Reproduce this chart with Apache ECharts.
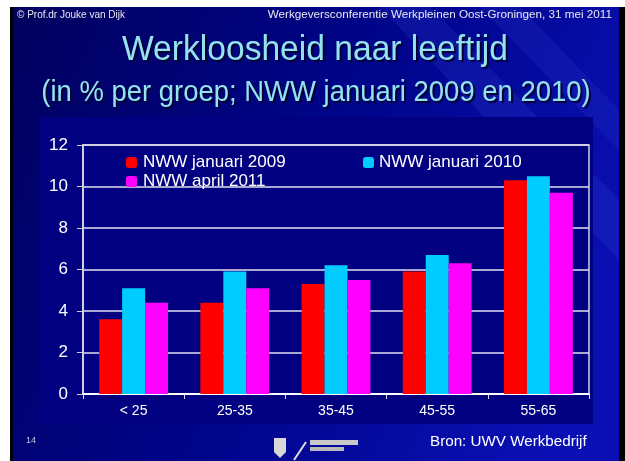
<!DOCTYPE html>
<html>
<head>
<meta charset="utf-8">
<script src="https://cdn.jsdelivr.net/npm/echarts@6/dist/echarts.min.js"></script>
<style>
  html, body { margin: 0; padding: 0; background: #fff; }
  #chart { width: 625px; height: 461px; }
</style>
</head>
<body>
<div id="chart"></div>
<script>
// leeftijdsgroepen
const categories = ['< 25', '25-35', '35-45', '45-55', '55-65']
const nww2009 = [3.6, 4.4, 5.3, 5.9, 10.3]
const nww2010 = [5.1, 5.9, 6.2, 6.7, 10.5]
const nww2011 = [4.4, 5.1, 5.5, 6.3, 9.7]
const seriesNames = ['NWW januari 2009', 'NWW januari 2010', 'NWW april 2011']
const yTicks = { min: 0, max: 12, interval: 2 }

const font = 'Liberation Sans, Arial, sans-serif'
const chart = echarts.init(document.getElementById('chart'))

const option = {
  backgroundColor: '#ffffff',
  animation: false,
  textStyle: { fontFamily: font },
  graphic: [
    // dia-rand en achtergrond
    { type: 'rect', z: -10, shape: { x: 10, y: 7, width: 615, height: 454 }, style: { fill: '#000000' } },
    {
      type: 'rect', z: -9, shape: { x: 13, y: 7, width: 606, height: 454 },
      style: {
        fill: new echarts.graphic.LinearGradient(0, 0, 1, 0.6, [
          { offset: 0, color: '#00005e' },
          { offset: 0.5, color: '#000488' },
          { offset: 1, color: '#0a10b4' }
        ])
      }
    },
    { type: 'polygon', z: -8, shape: { points: [[380, 7], [430, 7], [619, 200], [619, 260]] }, style: { fill: 'rgba(60,80,230,0.18)' } },
    { type: 'polygon', z: -8, shape: { points: [[480, 7], [520, 7], [619, 110], [619, 150]] }, style: { fill: 'rgba(60,80,230,0.15)' } },
    // grafiek-paneel
    { type: 'rect', z: -7, shape: { x: 40, y: 117, width: 553, height: 307 }, style: { fill: '#000080' } },
    // kop
    { type: 'text', left: 17, top: 10, style: { text: '© Prof.dr Jouke van Dijk', fill: '#e8e8f0', font: '10px ' + font } },
    { type: 'text', right: 13, top: 9, style: { text: 'Werkgeversconferentie Werkpleinen Oost-Groningen, 31 mei 2011', fill: '#e8e8f0', font: '11.7px ' + font } },
    // titel
    {
      type: 'text', x: 315, y: 33, scaleX: 0.96,
      style: {
        text: 'Werkloosheid naar leeftijd', fill: '#94e2f0', font: '35px ' + font, align: 'center',
        textShadowColor: '#000030', textShadowOffsetX: 2, textShadowOffsetY: 2, textShadowBlur: 1
      }
    },
    {
      type: 'text', x: 316, y: 78, scaleX: 0.915,
      style: {
        text: '(in % per groep; NWW januari 2009 en 2010)', fill: '#94e2f0', font: '30px ' + font, align: 'center',
        textShadowColor: '#000030', textShadowOffsetX: 2, textShadowOffsetY: 2, textShadowBlur: 1
      }
    },
    // voet
    { type: 'text', left: 26, top: 436, style: { text: '14', fill: '#c8c8e0', font: '9px ' + font } },
    { type: 'text', left: 430, top: 434, style: { text: 'Bron: UWV Werkbedrijf', fill: '#ffffff', font: '15.2px ' + font } },
    // logo (grof)
    { type: 'polygon', shape: { points: [[274, 438], [286, 438], [286, 452], [280, 458], [274, 452]] }, style: { fill: '#d8d8d8' } },
    { type: 'line', shape: { x1: 294, y1: 460, x2: 306, y2: 442 }, style: { stroke: '#e0e0e0', lineWidth: 2 } },
    { type: 'rect', shape: { x: 310, y: 440, width: 48, height: 5 }, style: { fill: '#c8c8c8' } },
    { type: 'rect', shape: { x: 310, y: 447, width: 34, height: 4 }, style: { fill: '#b8b8b8' } }
  ],
  legend: [
    {
      data: [seriesNames[0], seriesNames[2]],
      orient: 'vertical', left: 126, top: 154, padding: 0,
      itemWidth: 11, itemHeight: 11, itemGap: 2,
      textStyle: { color: '#ffffff', fontSize: 17, fontFamily: font, padding: [0, 0, 0, 1] }
    },
    {
      data: [seriesNames[1]],
      orient: 'vertical', left: 363, top: 154, padding: 0,
      itemWidth: 11, itemHeight: 11,
      textStyle: { color: '#ffffff', fontSize: 17, fontFamily: font, padding: [0, 0, 0, 0] }
    }
  ],
  grid: {
    left: 83, right: 36, top: 145, bottom: 67,
    show: true, backgroundColor: '#000080', borderColor: '#d0d0e0', borderWidth: 1.5
  },
  xAxis: {
    type: 'category',
    data: categories,
    axisLine: { lineStyle: { color: '#ffffff', width: 2 } },
    axisTick: { show: true, length: 5, lineStyle: { color: '#e0e0f0' } },
    axisLabel: { color: '#ffffff', fontSize: 14, margin: 10 }
  },
  yAxis: {
    type: 'value',
    min: yTicks.min, max: yTicks.max, interval: yTicks.interval,
    axisLine: { show: true, lineStyle: { color: '#d0d0e0', width: 2 } },
    axisTick: { show: true, length: 6, lineStyle: { color: '#d0d0e0' } },
    axisLabel: { color: '#ffffff', fontSize: 17, margin: 15 },
    splitLine: { lineStyle: { color: '#e0e0ee', width: 1.5 } }
  },
  series: [
    { name: seriesNames[0], type: 'bar', data: nww2009, itemStyle: { color: '#ff0000' }, barGap: '0%', barCategoryGap: '32%' },
    { name: seriesNames[1], type: 'bar', data: nww2010, itemStyle: { color: '#00ccff' }, barGap: '0%', barCategoryGap: '32%' },
    { name: seriesNames[2], type: 'bar', data: nww2011, itemStyle: { color: '#ff00ff' }, barGap: '0%', barCategoryGap: '32%' }
  ]
}

chart.setOption(option)
</script>
</body>
</html>
